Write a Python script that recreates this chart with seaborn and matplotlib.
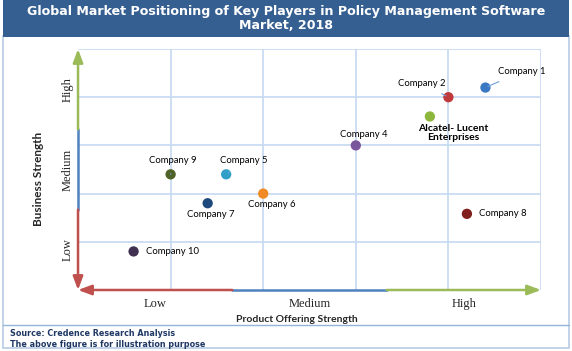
import pandas as pd
import numpy as np
import matplotlib.pyplot as plt
import seaborn as sns
from matplotlib.patches import Rectangle
from matplotlib.lines import Line2D

# positions on a 0-5 grid (product offering strength, business strength)
companies = ['Company 1', 'Company 2', 'Alcatel- Lucent\nEnterprises', 'Company 4', 'Company 9',
             'Company 5', 'Company 7', 'Company 6', 'Company 10', 'Company 8']
product_strength = [4.40, 4.00, 3.80, 3.00, 1.00, 1.60, 1.40, 2.00, 0.60, 4.20]
business_strength = [4.20, 4.00, 3.60, 3.00, 2.40, 2.40, 1.80, 2.00, 0.80, 1.58]
colors = ['#3a78c3', '#c0393b', '#8db63c', '#7b559b', '#4f6228',
          '#31a0c8', '#1f497d', '#f08a24', '#403152', '#7f1e1a']
tick_labels = ['Low', 'Medium', 'High']

df = pd.DataFrame({'company': companies, 'x': product_strength, 'y': business_strength})

sns.set_style('white')
fig = plt.figure(figsize=(5.72, 3.51), dpi=100)

# title bar and frame
fig.patches.append(Rectangle((0.005, 0.894), 0.99, 0.106, transform=fig.transFigure,
                             facecolor='#365f91', edgecolor='none', zorder=0))
fig.add_artist(Rectangle((0.006, 0.008), 0.988, 0.89, transform=fig.transFigure,
                         facecolor='none', edgecolor='#b8cce4', lw=1.2, zorder=0))
fig.add_artist(Line2D([0.006, 0.994], [0.074, 0.074], transform=fig.transFigure,
                      color='#95b3d7', lw=1))
fig.text(0.5, 0.947, 'Global Market Positioning of Key Players in Policy Management Software\nMarket, 2018',
         ha='center', va='center', color='white', fontsize=9.1, fontweight='bold',
         family='DejaVu Sans', linespacing=1.15)
fig.text(0.017, 0.051, 'Source: Credence Research Analysis', color='#1f3864', fontsize=5.8,
         fontweight='bold', family='DejaVu Sans', va='center')
fig.text(0.017, 0.019, 'The above figure is for illustration purpose', color='#1f3864', fontsize=5.8,
         fontweight='bold', family='DejaVu Sans', va='center')

ax = fig.add_axes([0.1364, 0.1738, 0.8094, 0.6866])
sns.scatterplot(data=df, x='x', y='y', hue='company', palette=dict(zip(companies, colors)),
                s=55, edgecolor='none', legend=False, ax=ax, zorder=5)

ax.set_xlim(0, 5)
ax.set_ylim(0, 5)
for v in range(1, 6):
    ax.axvline(v, color='#c6d9f1', lw=1.2, zorder=1)
    ax.axhline(v, color='#c6d9f1', lw=1.2, zorder=1)
for s in ax.spines.values():
    s.set_visible(False)

# axis arrows in three colours
red, blue, green = '#c0504d', '#4f81bd', '#9bbb59'
lw = 1.8
ax.plot([5/3, 10/3], [0, 0], color=blue, lw=lw, clip_on=False, zorder=3)
ax.plot([0, 0], [5/3, 10/3], color=blue, lw=lw, clip_on=False, zorder=3)
for xy, xytext, c in [((0, 0), (5/3, 0), red), ((5, 0), (10/3, 0), green),
                      ((0, 0), (0, 5/3), red), ((0, 5), (0, 10/3), green)]:
    ax.annotate('', xy=xy, xytext=xytext, annotation_clip=False, zorder=3,
                arrowprops=dict(arrowstyle='-|>,head_length=0.8,head_width=0.3', color=c, lw=lw,
                                shrinkA=0, shrinkB=0))

ax.set_xticks([5/6, 2.5, 25/6])
ax.set_xticklabels(tick_labels, family='Liberation Serif', fontsize=9)
ax.set_yticks([5/6, 2.5, 25/6])
ax.set_yticklabels(tick_labels, family='Liberation Serif', fontsize=9, rotation=90, va='center')
ax.tick_params(axis='x', length=0, pad=6)
ax.tick_params(axis='y', length=0, pad=3)
ax.set_xlabel('Product Offering Strength', family='Lato', fontsize=7.5, fontweight='bold')
ax.set_ylabel('Business Strength', family='Lato', fontsize=8.5, fontweight='bold')
ax.xaxis.set_label_coords(0.473, -0.104)
ax.yaxis.set_label_coords(-0.073, 0.46)

# point labels, offsets in points
offsets = {
    'Company 1': ((9, 11.5), 'left', True),
    'Company 2': ((-19, 10), 'center', True),
    'Alcatel- Lucent\nEnterprises': ((17, -12), 'center', False),
    'Company 4': ((6, 8), 'center', False),
    'Company 9': ((1.5, 10), 'center', True),
    'Company 5': ((13, 10), 'center', True),
    'Company 7': ((2, -8), 'center', False),
    'Company 6': ((6.5, -8), 'center', False),
    'Company 10': ((9, 0), 'left', False),
    'Company 8': ((9, 0), 'left', False),
}
for name, x, y in zip(companies, product_strength, business_strength):
    (dx, dy), ha, leader = offsets[name]
    bold = name.startswith('Alcatel')
    ax.annotate(name, xy=(x, y), xytext=(dx, dy), textcoords='offset points',
                ha=ha, va='center', fontsize=7.5 if bold else 6.8, family='Lato',
                fontweight='bold' if bold else 'normal', color='black', zorder=6,
                linespacing=1.1,
                arrowprops=dict(arrowstyle='-', color='#6fa0dc', lw=0.8, shrinkA=4, shrinkB=2)
                if leader else None)

fig.savefig('out.png', dpi=100)
